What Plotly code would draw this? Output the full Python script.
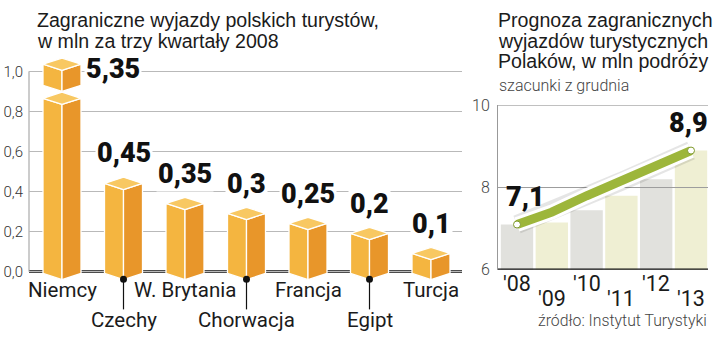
import plotly.graph_objects as go

W, H = 720, 343

# ---- left panel: trips abroad, first three quarters of 2008 (mln)
countries = ["Niemcy", "Czechy", "W. Brytania", "Chorwacja", "Francja", "Egipt", "Turcja"]
trips_mln = [5.35, 0.45, 0.35, 0.3, 0.25, 0.2, 0.1]
value_labels = ["5,35", "0,45", "0,35", "0,3", "0,25", "0,2", "0,1"]
label_row = [0, 1, 0, 1, 0, 1, 0]
y_ticks = [0, 0.2, 0.4, 0.6, 0.8, 1.0]
y_tick_text = ["0,0", "0,2", "0,4", "0,6", "0,8", "1,0"]

# ---- right panel: forecast of trips abroad (mln)
years = ["'08", "'09", "'10", "'11", "'12", "'13"]
bar_levels = [7.1, 7.15, 7.45, 7.8, 8.2, 8.9]
forecast = [7.1, 7.4, 7.8, 8.15, 8.5, 8.9]
forecast_labels = ["7,1", "", "", "", "", "8,9"]
y2_ticks = [6, 8, 10]
y2_tick_text = ["6", "8", "10"]

FONT = "Roboto"
TITLE_FONT = "Liberation Sans"
INK = "#1b1b1b"


def pyp(y):
    """pixel row -> paper fraction"""
    return 1 - y / H


def pxp(x):
    return x / W


# left panel geometry (pixels)
L_X0, L_X1 = 29, 462
L_C0, L_STEP = 62, 61.5
L_ZERO, L_PPU = 278, 212.0
L_YR = [-0.05, 1.1]
l_xr = [(L_X0 - L_C0) / L_STEP, (L_X1 - L_C0) / L_STEP]
l_dom_y = [pyp(L_ZERO - L_YR[0] * L_PPU), pyp(L_ZERO - L_YR[1] * L_PPU)]

# right panel geometry (pixels)
R_X0, R_X1 = 498, 708
R_C0, R_STEP = 517, 34.8
r_xr = [(R_X0 - R_C0) / R_STEP, (R_X1 - R_C0) / R_STEP]
r_dom_y = [pyp(276), pyp(102)]

AXIS_TOP = 1.0
FRONT = "#F4B540"
SIDE = "#E8962A"
TOP = "#F8C862"

fig = go.Figure()

# isometric box in data units
hw = 19 / L_STEP
dv = 6.5 / L_PPU
sh = -2 / L_PPU


def add_box(i, lo, hi):
    b, t = lo + sh, hi + sh
    faces = [
        ([i - hw, i, i, i - hw, i - hw], [b, b - dv, t - dv, t, b], FRONT),
        ([i, i + hw, i + hw, i, i], [b - dv, b, t, t - dv, b - dv], SIDE),
        ([i - hw, i, i + hw, i, i - hw], [t, t - dv, t, t + dv, t], TOP),
    ]
    for xs, ys, col in faces:
        fig.add_trace(go.Scatter(
            x=xs, y=ys, mode="lines", fill="toself", fillcolor=col,
            line=dict(color="white", width=1.3), hoverinfo="skip",
            showlegend=False, xaxis="x", yaxis="y"))


for i, v in enumerate(trips_mln):
    if v > AXIS_TOP:
        # broken column: stub below the break plus a cube above it
        add_box(i, 0, 0.875)
        add_box(i, 0.94, 1.045)
    else:
        add_box(i, 0, v)

# right panel: background columns
fig.add_trace(go.Bar(
    x=list(range(len(years))), y=bar_levels, width=0.93,
    marker=dict(color=["#E1E1DD" if k % 2 == 0 else "#EFEFD3" for k in range(len(years))],
                line=dict(width=0)),
    hoverinfo="skip", showlegend=False, xaxis="x2", yaxis="y2"))

# gridlines drawn over the columns
for g in [8, 10]:
    fig.add_trace(go.Scatter(
        x=r_xr, y=[g, g], mode="lines", line=dict(color="#9c9c9c", width=1),
        hoverinfo="skip", showlegend=False, xaxis="x2", yaxis="y2"))

# forecast line: soft shadow, white casing, green stroke
xi = list(range(len(years)))
fig.add_trace(go.Scatter(x=xi, y=forecast, mode="lines",
                         line=dict(color="rgba(0,0,0,0.10)", width=19),
                         hoverinfo="skip", showlegend=False, xaxis="x2", yaxis="y2"))
fig.add_trace(go.Scatter(x=xi, y=forecast, mode="lines",
                         line=dict(color="white", width=15),
                         hoverinfo="skip", showlegend=False, xaxis="x2", yaxis="y2"))
fig.add_trace(go.Scatter(x=xi, y=forecast, mode="lines",
                         line=dict(color="#9DB63B", width=9),
                         hoverinfo="skip", showlegend=False, xaxis="x2", yaxis="y2"))
ends = [k for k, t in enumerate(forecast_labels) if t]
fig.add_trace(go.Scatter(x=ends, y=[forecast[k] for k in ends], mode="markers",
                         marker=dict(color="white", size=7, line=dict(color="#7f9a2c", width=1)),
                         hoverinfo="skip", showlegend=False, xaxis="x2", yaxis="y2"))

annotations = []
shapes = []


def text(x, y, s, size, color=INK, weight=400, xanchor="left", xref="paper", yref="paper",
         yanchor="middle", family=FONT, **kw):
    annotations.append(dict(x=x, y=y, xref=xref, yref=yref, text=s, showarrow=False,
                            xanchor=xanchor, yanchor=yanchor,
                            font=dict(family=family, size=size, color=color, weight=weight), **kw))


# titles (one annotation per line, tight leading)
TS = 19.6
title_lines_left = ["Zagraniczne wyjazdy polskich turystów,", "w mln za trzy kwartały 2008"]
title_lines_right = ["Prognoza zagranicznych", "wyjazdów turystycznych", "Polaków, w mln podróży"]
for n, line in enumerate(title_lines_left):
    text(pxp(36), pyp(11.5 + 22 * n), line, TS, family=TITLE_FONT, borderpad=0)
for n, line in enumerate(title_lines_right):
    text(pxp(497), pyp(11.5 + 22 * n), line, TS, family=TITLE_FONT, borderpad=0)
text(pxp(497), pyp(81.5), "szacunki z grudnia", 16, color="#444", weight=300)
text(pxp(709), pyp(329.5), "źródło: Instytut Turystyki", 15.8, color="#444", weight=300,
     xanchor="right")

# value labels on the left panel
VS = 27
for i, (v, lab) in enumerate(zip(trips_mln, value_labels)):
    if v > AXIS_TOP:
        text(i, AXIS_TOP, lab, VS, color="#111", weight=900, xref="x", yref="y",
             xshift=22, yshift=2, bgcolor="white", borderpad=1)
    else:
        text(i, v, lab, VS, color="#111", weight=900, xref="x", yref="y",
             xanchor="center", yshift=28, bgcolor="white", borderpad=1)

# category labels, second row hung on pins
for i, (name, row) in enumerate(zip(countries, label_row)):
    yc = 297 if row == 0 else 329
    text(i, pyp(yc), name, 20.5, xanchor="center", xref="x")
    if row == 1:
        shapes.append(dict(type="line", xref="x", yref="paper", x0=i, x1=i,
                           y0=pyp(286), y1=pyp(318), line=dict(color="#111", width=1.2)))
        shapes.append(dict(type="circle", xref="x", yref="paper", xsizemode="pixel",
                           ysizemode="pixel", xanchor=i, yanchor=pyp(286),
                           x0=-3.5, x1=3.5, y0=-3.5, y1=3.5,
                           fillcolor="#111", line=dict(width=0)))

# year labels, staggered
for k, yr in enumerate(years):
    yc = 290.5 if k % 2 == 0 else 306.5
    text(k, pyp(yc), yr, 21.5, xanchor="center", xref="x2")

# forecast value labels
for k, lab in enumerate(forecast_labels):
    if lab:
        text(k, forecast[k], lab, VS, color="#111", weight=900, xref="x2", yref="y2",
             xanchor="center", yshift=28, xshift=8 if k == 0 else -3)

# baselines and axis lines
shapes.append(dict(type="line", xref="x domain", yref="y", x0=0, x1=1, y0=0, y1=0,
                   line=dict(color="#111", width=2.5), layer="below"))
shapes.append(dict(type="line", xref="x domain", yref="y", x0=0, x1=0, y0=0, y1=AXIS_TOP,
                   line=dict(color="#999", width=1), layer="below"))
shapes.append(dict(type="line", xref="x2 domain", yref="y2", x0=0, x1=1, y0=6, y1=6,
                   line=dict(color="#111", width=2.5), layer="above"))

fig.update_layout(
    width=W, height=H, margin=dict(l=0, r=0, t=0, b=0),
    paper_bgcolor="white", plot_bgcolor="white",
    showlegend=False, annotations=annotations, shapes=shapes,
    xaxis=dict(domain=[pxp(L_X0), pxp(L_X1)], range=l_xr, showgrid=False,
               zeroline=False, showticklabels=False, fixedrange=True),
    yaxis=dict(domain=l_dom_y, range=L_YR, tickvals=y_ticks, ticktext=y_tick_text,
               showgrid=True, gridcolor="#b9b9b9", gridwidth=1, zeroline=False,
               showline=False, ticks="", ticklabelstandoff=5,
               tickfont=dict(family=FONT, size=15, color="#333", weight=300),
               fixedrange=True),
    xaxis2=dict(domain=[pxp(R_X0), pxp(R_X1)], range=r_xr, showgrid=False,
                zeroline=False, showticklabels=False, anchor="y2", fixedrange=True),
    yaxis2=dict(domain=r_dom_y, range=[6, 10], tickvals=y2_ticks, ticktext=y2_tick_text,
                showgrid=False, zeroline=False, showline=True, linecolor="#999",
                linewidth=1, ticks="", ticklabelstandoff=4, anchor="x2",
                tickfont=dict(family=FONT, size=16, color="#444", weight=300),
                fixedrange=True),
    bargap=0.07,
)

fig.write_html("out.html", config={"displayModeBar": False})
